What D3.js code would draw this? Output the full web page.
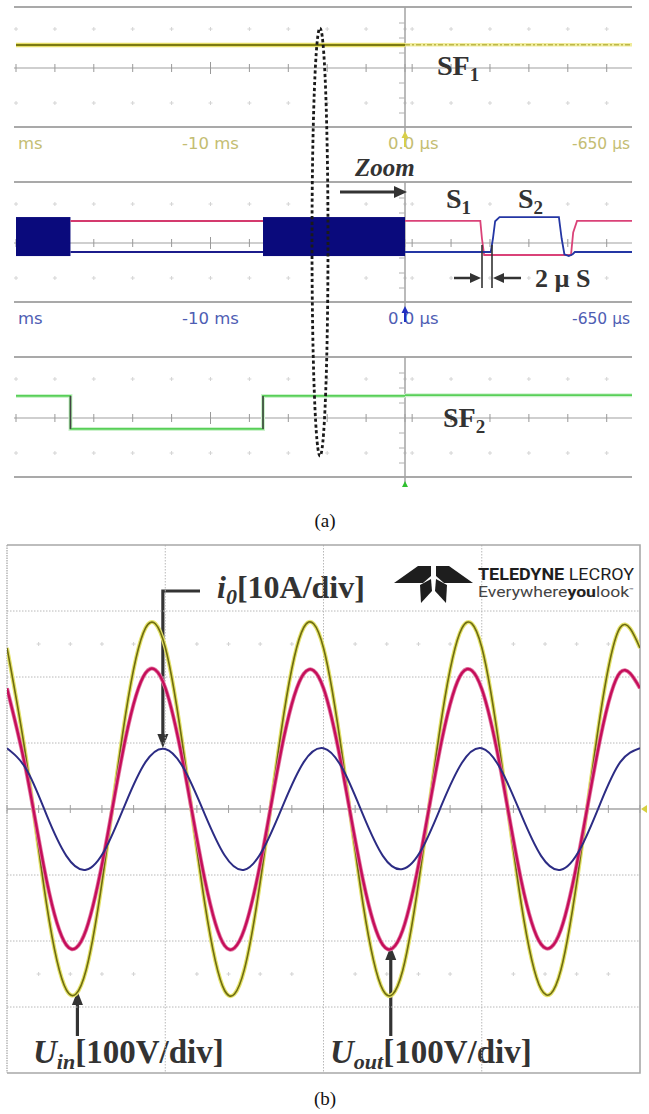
<!DOCTYPE html>
<html>
<head>
<meta charset="utf-8">
<script src="https://cdn.jsdelivr.net/npm/d3@7"></script>
<style>
    body { margin: 0; background: #fff; }
    svg { display: block; }
</style>
</head>
<body>
<div id="chart"></div>
<script>
(function () {
    // ---------- (a) gate signals, levels in scope divisions ----------
    const sf1TimesMs = [-20, 0];
    const sf1Levels = [1.53, 1.53];
    const sf1RightUs = [0, 41.3];
    const sf1RightLevels = [1.55, 1.55];

    const pwmBurstsMs = [[-20, -17.2], [-7.3, 0]];
    const pwmBand = [1.73, -0.87];
    const idleTimesMs = [-17.2, -7.3];
    const idlePink = [1.47, 1.47];
    const idleBlue = [-0.6, -0.6];

    const s1TimesUs = [0, 13.7, 14.0, 14.4, 30.2, 30.6, 31.3, 41.3];
    const s1Levels = [1.47, 1.47, 0.3, -0.8, -0.8, 0.7, 1.47, 1.47];
    const s2TimesUs = [0, 15.6, 16.0, 16.4, 17.2, 28.0, 28.5, 29.0, 29.8, 30.5, 30.9, 41.3];
    const s2Levels = [-0.6, -0.6, 0.3, 1.45, 1.73, 1.73, 0.3, -0.75, -0.87, -0.75, -0.6, -0.6];

    const sf2TimesMs = [-20, -17.2, -7.3, 0];
    const sf2Levels = [1.47, -0.73, 1.47, 1.47];
    const sf2RightUs = [0, 41.3];
    const sf2RightLevels = [1.52, 1.52];

    // scope time labels (the first one is cut by the screen edge, only "ms" shows)
    const labelTimesMs = [-19.9, -10];
    const labelTextMs = ['ms', '-10 ms'];
    const labelTimesUs = [-3.1, 30.4];
    const labelTextUs = ['0.0 µs', '-650 µs'];
    const panelLabelColors = ['#c4bd72', '#4e5db3', '#a8e6a8'];
    const triggerColors = ['#d8cf4a', '#2030c0', '#30c030'];

    // ---------- (b) input / output waveforms ----------
    const timeMs = [0, 2.5, 5, 7.5, 10, 12.5, 15, 17.5, 20, 22.5, 25, 27.5, 30, 32.5, 35, 37.5,
        40, 42.5, 45, 47.5, 50, 52.5, 55, 57.5, 60, 62.5, 65, 67.5, 70, 72.5, 75, 77.5, 80];
    const uIn = [244, 70, -144, -274, -244, -70, 144, 274,
        245, 71, -143, -275, -243, -69, 145, 275,
        244, 70, -144, -274, -245, -71, 143, 274,
        245, 70, -144, -273, -244, -70, 144, 275, 244];
    const uOut = [183, 53, -108, -206, -183, -53, 108, 206,
        184, 54, -107, -207, -182, -52, 109, 205,
        183, 52, -108, -206, -184, -54, 107, 206,
        182, 53, -109, -205, -183, -53, 108, 207, 183];
    const iOut = [9.2, 5.9, -0.9, -7.1, -9.2, -5.9, 0.9, 7.1,
        9.1, 5.8, -0.8, -7.0, -9.2, -5.8, 0.9, 7.1,
        9.2, 5.9, -0.9, -7.1, -9.1, -5.9, 0.8, 7.0,
        9.2, 5.8, -0.9, -7.1, -9.2, -5.9, 0.9, 7.1, 9.2];

    const W = 649, H = 1114;
    const ink = '#333';
    const serif = '"Liberation Serif", "Times New Roman", serif';

    let svg = d3.select('#chart').append('svg')
        .attr('width', W)
        .attr('height', H);

    let defs = svg.append('defs');
    defs.append('clipPath').attr('id', 'clip-a')
        .append('rect').attr('x', 0).attr('y', 0).attr('width', W).attr('height', 487);
    defs.append('clipPath').attr('id', 'clip-left')
        .append('rect').attr('x', 14).attr('y', 0).attr('width', 391).attr('height', 487);
    defs.append('clipPath').attr('id', 'clip-right')
        .append('rect').attr('x', 405).attr('y', 0).attr('width', 227).attr('height', 487);
    defs.append('clipPath').attr('id', 'clip-b')
        .append('rect').attr('x', 7).attr('y', 545).attr('width', 633).attr('height', 528);

    // ================= (a) =================
    const xL = d3.scaleLinear().domain([-20, 0]).range([16, 405]);
    const xR = d3.scaleLinear().domain([0, 41.3]).range([405, 632]);
    const panelTops = [7, 182, 357];
    const yPanel = top => d3.scaleLinear().domain([-4, 4]).range([top + 121, top + 1]);

    let figA = svg.append('g').attr('clip-path', 'url(#clip-a)');

    function drawGrid(top, idx) {
        let g = figA.append('g').classed('scope-grid', true);
        const y = yPanel(top);
        [top, top + 120].forEach(yy => {
            g.append('line').attr('x1', 14).attr('x2', 632).attr('y1', yy).attr('y2', yy)
                .attr('stroke', '#a9a9a9').attr('stroke-width', 2);
        });
        g.append('line').attr('x1', 14).attr('x2', 632).attr('y1', y(0)).attr('y2', y(0))
            .attr('stroke', '#a0a0a0').attr('stroke-width', 1.2);

        const tickX = d3.range(-20, 0.01, 2).map(d => xL(d))
            .concat(d3.range(1.3, 41, 7.08).map(d => xR(d)));
        tickX.forEach(x => {
            const big = Math.abs(x - xL(-10)) < 1;
            g.append('line').attr('x1', x).attr('x2', x)
                .attr('y1', y(0) - (big ? 6 : 4)).attr('y2', y(0) + (big ? 6 : 4))
                .attr('stroke', '#999').attr('stroke-width', 1);
            [top + 22, top + 96].forEach(yy => {
                g.append('path')
                    .attr('d', `M${x - 2},${yy}H${x + 2}M${x},${yy - 2}V${yy + 2}`)
                    .attr('stroke', '#d4d4d4').attr('stroke-width', 1);
            });
        });

        // divider between full record and zoomed view
        g.append('line').attr('x1', 405).attr('x2', 405).attr('y1', top).attr('y2', top + 128)
            .attr('stroke', '#a3a3a3').attr('stroke-width', 1.5);
        [-3, -2, -1, 1, 2, 3].forEach(k => {
            g.append('line').attr('x1', 399).attr('x2', 405).attr('y1', y(k)).attr('y2', y(k))
                .attr('stroke', '#b0b0b0').attr('stroke-width', 1);
        });

        // time labels under the grid (third row falls below the crop)
        if (idx < 2) {
            let lab = figA.append('g')
                .style('font-family', '"DejaVu Sans", sans-serif')
                .style('font-size', '16.5px')
                .attr('fill', panelLabelColors[idx]);
            lab.append('text').attr('x', xL(labelTimesMs[0])).attr('y', top + 142).text(labelTextMs[0]);
            lab.append('text').attr('x', xL(labelTimesMs[1])).attr('y', top + 142)
                .attr('text-anchor', 'middle').text(labelTextMs[1]);
            lab.selectAll('text.us').data(labelTimesUs).join('text')
                .attr('x', d => xR(d)).attr('y', top + 142)
                .attr('textLength', (d, i) => i === 1 ? 58 : null)
                .attr('lengthAdjust', 'spacingAndGlyphs')
                .text((d, i) => labelTextUs[i]);
        }

        // trigger marker
        figA.append('path')
            .attr('d', `M405,${top + 124}l-3.5,7h2.5v9h2v-9h2.5z`)
            .attr('fill', triggerColors[idx]);
    }
    panelTops.forEach(drawGrid);

    // --- SF1 ---
    let y1 = yPanel(panelTops[0]);
    const sf1L = d3.line().x((d, i) => xL(sf1TimesMs[i])).y(d => y1(d));
    const sf1R = d3.line().x((d, i) => xR(sf1RightUs[i])).y(d => y1(d));
    figA.append('path').datum(sf1Levels).attr('d', sf1L).attr('clip-path', 'url(#clip-left)')
        .attr('fill', 'none').attr('stroke', '#e6df6a').attr('stroke-width', 4.5);
    figA.append('path').datum(sf1Levels).attr('d', sf1L).attr('clip-path', 'url(#clip-left)')
        .attr('fill', 'none').attr('stroke', '#7c7a12').attr('stroke-width', 2);
    figA.append('path').datum(sf1RightLevels).attr('d', sf1R).attr('clip-path', 'url(#clip-right)')
        .attr('fill', 'none').attr('stroke', '#f0ec9c').attr('stroke-width', 3.5);
    figA.append('path').datum(sf1RightLevels).attr('d', sf1R).attr('clip-path', 'url(#clip-right)')
        .attr('fill', 'none').attr('stroke', '#bdb84a').attr('stroke-width', 1.3)
        .attr('stroke-dasharray', '5,2,2,2');

    // --- S1 / S2 ---
    let y2 = yPanel(panelTops[1]);
    figA.selectAll('rect.pwm').data(pwmBurstsMs).join('rect')
        .attr('x', d => xL(d[0])).attr('width', d => xL(d[1]) - xL(d[0]))
        .attr('y', y2(pwmBand[0])).attr('height', y2(pwmBand[1]) - y2(pwmBand[0]))
        .attr('clip-path', 'url(#clip-left)')
        .attr('fill', '#0a0a7c');
    const idleLine = d3.line().x((d, i) => xL(idleTimesMs[i])).y(d => y2(d));
    figA.append('path').datum(idlePink).attr('d', idleLine)
        .attr('fill', 'none').attr('stroke', '#d43a6e').attr('stroke-width', 2);
    figA.append('path').datum(idleBlue).attr('d', idleLine)
        .attr('fill', 'none').attr('stroke', '#1c1c8c').attr('stroke-width', 1.8);

    const s1Line = d3.line().x((d, i) => xR(s1TimesUs[i])).y(d => y2(d));
    const s2Line = d3.line().x((d, i) => xR(s2TimesUs[i])).y(d => y2(d));
    figA.append('path').datum(s1Levels).attr('d', s1Line).attr('clip-path', 'url(#clip-right)')
        .attr('fill', 'none').attr('stroke', '#da4278').attr('stroke-width', 1.8);
    figA.append('path').datum(s2Levels).attr('d', s2Line).attr('clip-path', 'url(#clip-right)')
        .attr('fill', 'none').attr('stroke', '#2436a4').attr('stroke-width', 1.8);

    // --- SF2 ---
    let y3 = yPanel(panelTops[2]);
    const sf2L = d3.line().curve(d3.curveStepAfter).x((d, i) => xL(sf2TimesMs[i])).y(d => y3(d));
    const sf2R = d3.line().x((d, i) => xR(sf2RightUs[i])).y(d => y3(d));
    figA.append('path').datum(sf2Levels).attr('d', sf2L).attr('clip-path', 'url(#clip-left)')
        .attr('fill', 'none').attr('stroke', '#cdf2cd').attr('stroke-width', 4);
    figA.append('path').datum(sf2Levels).attr('d', sf2L).attr('clip-path', 'url(#clip-left)')
        .attr('fill', 'none').attr('stroke', '#58cf58').attr('stroke-width', 1.8);
    figA.append('path').datum(sf2RightLevels).attr('d', sf2R).attr('clip-path', 'url(#clip-right)')
        .attr('fill', 'none').attr('stroke', '#cdf2cd').attr('stroke-width', 4);
    figA.append('path').datum(sf2RightLevels).attr('d', sf2R).attr('clip-path', 'url(#clip-right)')
        .attr('fill', 'none').attr('stroke', '#58cf58').attr('stroke-width', 1.8);
    // switching edges render dark on the scope
    sf2TimesMs.slice(1, 3).forEach((t, i) => {
        figA.append('line').attr('x1', xL(t)).attr('x2', xL(t))
            .attr('y1', y3(sf2Levels[i])).attr('y2', y3(sf2Levels[i + 1]))
            .attr('stroke', '#444').attr('stroke-width', 1.6);
    });

    // --- annotations (a) ---
    function arrowHead(g, x, y, dir, len, half) {
        // (x, y) is the tip
        let p;
        if (dir === 'r') p = [[x, y], [x - len, y - half], [x - len, y + half]];
        if (dir === 'l') p = [[x, y], [x + len, y - half], [x + len, y + half]];
        if (dir === 'u') p = [[x, y], [x - half, y + len], [x + half, y + len]];
        if (dir === 'd') p = [[x, y], [x - half, y - len], [x + half, y - len]];
        g.append('path').attr('d', 'M' + p.join('L') + 'Z').attr('fill', ink);
    }

    let ann = svg.append('g').attr('fill', ink).style('font-family', serif).style('font-weight', 'bold');

    function subLabel(x, y, main, sub, size, subSize) {
        let t = ann.append('text').attr('x', x).attr('y', y).style('font-size', size + 'px');
        t.append('tspan').text(main);
        t.append('tspan').attr('dy', size * 0.22).style('font-size', subSize + 'px').text(sub);
        return t;
    }
    subLabel(437, 75, 'SF', '1', 28, 19);
    subLabel(443, 427, 'SF', '2', 28, 19);
    subLabel(446, 208, 'S', '1', 28, 19);
    subLabel(518, 208, 'S', '2', 28, 19);

    ann.append('text').attr('x', 355).attr('y', 176)
        .style('font-size', '25px').style('font-style', 'italic').text('Zoom');
    ann.append('line').attr('x1', 340).attr('x2', 396).attr('y1', 192).attr('y2', 192)
        .attr('stroke', ink).attr('stroke-width', 3);
    arrowHead(ann, 407, 192, 'r', 13, 6);

    // 2 µs dead-time marker
    [482, 492].forEach(x => {
        ann.append('line').attr('x1', x).attr('x2', x).attr('y1', 245).attr('y2', 288)
            .attr('stroke', ink).attr('stroke-width', 1.6);
    });
    ann.append('line').attr('x1', 454).attr('x2', 472).attr('y1', 278).attr('y2', 278)
        .attr('stroke', ink).attr('stroke-width', 2.5);
    arrowHead(ann, 481, 278, 'r', 11, 5);
    ann.append('line').attr('x1', 502).attr('x2', 521).attr('y1', 278).attr('y2', 278)
        .attr('stroke', ink).attr('stroke-width', 2.5);
    arrowHead(ann, 493, 278, 'l', 11, 5);
    ann.append('text').attr('x', 535).attr('y', 287).style('font-size', '26px').text('2 µ S');

    // dashed selection ellipse
    svg.append('ellipse').attr('cx', 320).attr('cy', 242).attr('rx', 8).attr('ry', 214)
        .attr('fill', 'none').attr('stroke', '#1a1a1a').attr('stroke-width', 2.8)
        .attr('stroke-dasharray', '3.2,2.6');

    svg.append('text').attr('x', 325).attr('y', 527).attr('text-anchor', 'middle')
        .style('font-family', serif).style('font-size', '19px').attr('fill', '#111').text('(a)');

    // ================= (b) =================
    const xB = d3.scaleLinear().domain([0, 80]).range([7, 640]);
    const yV = d3.scaleLinear().domain([-400, 400]).range([1073, 545]);
    const yA = d3.scaleLinear().domain([-40, 40]).range([1073, 545]);

    let figB = svg.append('g');
    let grid = figB.append('g');
    d3.range(-300, 301, 100).filter(v => v !== 0).forEach(v => {
        grid.append('line').attr('x1', 7).attr('x2', 640).attr('y1', yV(v)).attr('y2', yV(v))
            .attr('stroke', '#b8b8b8').attr('stroke-width', 1).attr('stroke-dasharray', '1.5,1.5');
    });
    [20, 40, 60].forEach(t => {
        grid.append('line').attr('x1', xB(t)).attr('x2', xB(t)).attr('y1', 545).attr('y2', 1073)
            .attr('stroke', '#b8b8b8').attr('stroke-width', 1).attr('stroke-dasharray', '1.5,1.5');
    });
    grid.append('line').attr('x1', 7).attr('x2', 7).attr('y1', 545).attr('y2', 1073)
        .attr('stroke', '#b5b5b5').attr('stroke-width', 1.5).attr('stroke-dasharray', '1.5,1');
    grid.append('path').attr('d', 'M7,545H640V1073H7')
        .attr('fill', 'none').attr('stroke', '#a8a8a8').attr('stroke-width', 1.6);
    grid.append('line').attr('x1', 7).attr('x2', 640).attr('y1', yV(0)).attr('y2', yV(0))
        .attr('stroke', '#a5a5a5').attr('stroke-width', 1.4);
    d3.range(0, 80.1, 4).forEach(t => {
        grid.append('line').attr('x1', xB(t)).attr('x2', xB(t))
            .attr('y1', yV(0) - 4).attr('y2', yV(0) + 4)
            .attr('stroke', '#a0a0a0').attr('stroke-width', 1);
        if (t % 20 !== 0) {
            [250, -250].forEach(v => {
                const x = xB(t), yy = yV(v);
                grid.append('path').attr('d', `M${x - 2},${yy}H${x + 2}M${x},${yy - 2}V${yy + 2}`)
                    .attr('stroke', '#d2d2d2').attr('stroke-width', 1);
            });
        }
    });
    figB.append('path').attr('d', `M641,${yV(0)}l6,-4v8z`).attr('fill', '#d6d040');

    let traces = figB.append('g').attr('clip-path', 'url(#clip-b)');
    const lineV = d3.line().curve(d3.curveNatural).x((d, i) => xB(timeMs[i])).y(d => yV(d));
    const lineA = d3.line().curve(d3.curveNatural).x((d, i) => xB(timeMs[i])).y(d => yA(d));

    traces.append('path').datum(uIn).attr('d', lineV)
        .attr('fill', 'none').attr('stroke', '#e4e26a').attr('stroke-width', 4);
    traces.append('path').datum(uIn).attr('d', lineV)
        .attr('fill', 'none').attr('stroke', '#6e6c10').attr('stroke-width', 1.6);
    traces.append('path').datum(uOut).attr('d', lineV)
        .attr('fill', 'none').attr('stroke', '#e27aa4').attr('stroke-width', 4);
    traces.append('path').datum(uOut).attr('d', lineV)
        .attr('fill', 'none').attr('stroke', '#c50e5a').attr('stroke-width', 2.4);
    traces.append('path').datum(iOut).attr('d', lineA)
        .attr('fill', 'none').attr('stroke', '#2c2c84').attr('stroke-width', 2);

    // LeCroy logo
    let logo = figB.append('g').attr('fill', '#1e1e1e');
    logo.append('path').attr('d', 'M394,583 L418,566 L431,566 L431,576 L423,583 Z');
    logo.append('path').attr('d', 'M473,583 L449,566 L436,566 L436,576 L444,583 Z');
    logo.append('path').attr('d', 'M420,585 L431,579 L432,591 L421,603 Z');
    logo.append('path').attr('d', 'M447,585 L436,579 L435,591 L446,603 Z');
    let brand = logo.append('text').attr('x', 478).attr('y', 580)
        .style('font-family', 'Roboto, "Liberation Sans", sans-serif').style('font-size', '17px')
        .attr('textLength', 156).attr('lengthAdjust', 'spacingAndGlyphs');
    brand.append('tspan').style('font-weight', 'bold').text('TELEDYNE');
    brand.append('tspan').text(' LECROY');
    let slogan = logo.append('text').attr('x', 478).attr('y', 597)
        .style('font-family', 'Roboto, "Liberation Sans", sans-serif').style('font-size', '14px')
        .attr('textLength', 156).attr('lengthAdjust', 'spacingAndGlyphs').attr('fill', '#444');
    slogan.append('tspan').text('Everywhere');
    slogan.append('tspan').style('font-weight', 'bold').attr('fill', '#222').text('you');
    slogan.append('tspan').text('look');
    slogan.append('tspan').attr('dy', -5).style('font-size', '6px').text('™');

    // --- annotations (b) ---
    ann.append('path').attr('d', `M200,591 H${xB(19.7)} V736`)
        .attr('fill', 'none').attr('stroke', ink).attr('stroke-width', 3.2);
    arrowHead(ann, xB(19.7), 748, 'd', 14, 5.5);
    let i0T = ann.append('text').attr('x', 217).attr('y', 598).style('font-size', '32px');
    i0T.append('tspan').style('font-style', 'italic').text('i');
    i0T.append('tspan').style('font-style', 'italic').style('font-size', '22px').attr('dy', 6).text('0');
    i0T.append('tspan').attr('dy', -6).text('[10A/div]');

    ann.append('line').attr('x1', xB(8.9)).attr('x2', xB(8.9)).attr('y1', 1036).attr('y2', 1004)
        .attr('stroke', ink).attr('stroke-width', 3.2);
    arrowHead(ann, xB(8.9), 991, 'u', 14, 5.5);
    ann.append('line').attr('x1', xB(48.5)).attr('x2', xB(48.5)).attr('y1', 1036).attr('y2', 959)
        .attr('stroke', ink).attr('stroke-width', 3.2);
    arrowHead(ann, xB(48.5), 946, 'u', 14, 5.5);

    let uinT = ann.append('text').attr('x', 33).attr('y', 1063).style('font-size', '33px');
    uinT.append('tspan').style('font-style', 'italic').text('U');
    uinT.append('tspan').style('font-style', 'italic').style('font-size', '22px').attr('dy', 6).text('in');
    uinT.append('tspan').attr('dy', -6).text('[100V/div]');
    let uoutT = ann.append('text').attr('x', 330).attr('y', 1063).style('font-size', '33px');
    uoutT.append('tspan').style('font-style', 'italic').text('U');
    uoutT.append('tspan').style('font-style', 'italic').style('font-size', '22px').attr('dy', 6).text('out');
    uoutT.append('tspan').attr('dy', -6).text('[100V/div]');

    svg.append('text').attr('x', 325).attr('y', 1105).attr('text-anchor', 'middle')
        .style('font-family', serif).style('font-size', '19px').attr('fill', '#111').text('(b)');
})();
</script>
</body>
</html>
